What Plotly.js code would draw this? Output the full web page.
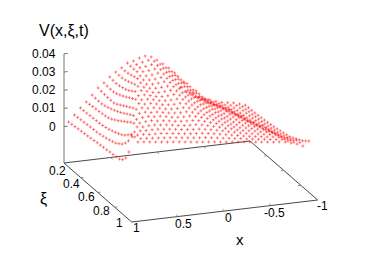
<!DOCTYPE html>
<html><head><meta charset="utf-8">
<script src="https://cdn.plot.ly/plotly-3.0.0.min.js"></script>
<style>html,body{margin:0;padding:0;background:#fff}#c{width:382px;height:267px}</style>
</head><body><div id="c"></div>
<script>
const xValues=[0.95,0.887,0.823,0.76,0.697,0.633,0.57,0.507,0.443,0.38,0.317,0.253,0.19,0.127,0.063,0,-0.063,-0.127,-0.19,-0.253,-0.317,-0.38,-0.443,-0.507,-0.57,-0.633,-0.697,-0.76,-0.823,-0.887,-0.95];
const xiValues=[0.2,0.2375,0.275,0.3125,0.35,0.3875,0.425,0.4625,0.5,0.5375,0.575,0.6125,0.65,0.6875,0.725,0.7625,0.8,0.8375,0.875,0.9125,0.95];
// V in units of 1e-4, one list per x value, ordered by xi
const vByX=[
[22,25,27,30,32,35,37,40,42,45,47,50,52,55,57,60,62,74,98,146,244],
[57,59,61,63,65,67,68,70,73,77,82,87,93,100,112,125,146,173,220,225,212],
[92,93,94,95,96,98,99,102,106,111,118,125,133,142,155,172,190,218,216,212,209],
[121,123,126,128,130,132,135,140,148,159,170,183,196,208,222,232,227,221,216,210,205],
[155,153,152,152,157,163,170,178,187,196,207,218,229,240,234,229,223,218,212,207,201],
[190,187,185,183,183,184,192,203,214,225,236,247,255,248,240,233,226,219,211,204,197],
[214,212,210,210,216,224,233,243,254,265,276,268,259,251,243,235,226,218,210,201,193],
[243,240,238,240,245,251,260,272,285,277,269,261,253,245,237,229,222,214,206,198,190],
[266,264,264,268,274,282,290,294,286,277,269,261,252,244,236,227,219,211,202,194,186],
[285,284,286,291,297,302,294,286,278,270,262,254,246,238,230,222,214,206,198,190,182],
[308,306,305,306,298,291,283,276,268,261,253,246,238,231,223,216,208,201,193,186,178],
[315,311,309,302,294,287,279,272,264,257,249,242,234,227,219,212,204,197,189,182,174],
[328,320,312,304,296,288,281,273,265,257,249,241,233,225,217,210,202,194,186,178,170],
[335,327,318,310,302,293,285,276,268,260,251,243,234,226,218,209,201,192,184,176,167],
[326,318,310,302,293,285,277,269,261,253,245,236,228,220,212,204,196,187,179,171,163],
[305,298,291,283,276,269,261,254,247,239,232,225,217,210,203,196,188,181,174,166,159],
[280,274,268,261,255,249,243,236,230,224,218,211,205,199,193,186,180,174,168,161,155],
[254,249,244,239,233,228,223,218,213,208,203,197,192,187,182,177,172,167,161,156,151],
[223,219,215,212,208,204,200,196,193,189,185,181,177,174,170,166,162,158,155,151,147],
[140,185,192,189,187,184,181,179,176,173,171,168,165,163,160,157,155,152,149,147,144],
[110,122,140,162,161,159,158,157,155,154,153,151,150,149,147,146,145,144,142,141,140],
[90,98,108,118,130,142,142,141,141,141,140,140,140,139,139,138,138,138,137,137,136],
[70,77,84,92,101,110,121,132,133,133,133,133,133,133,133,133,133,132,132,132,132],
[60,65,70,76,83,91,100,111,124,124,125,125,125,126,126,126,127,127,127,128,128],
[50,54,58,62,67,72,78,85,93,103,114,115,116,117,118,119,120,121,122,123,124],
[40,43,46,50,54,58,62,67,72,78,85,95,107,109,111,113,115,116,118,119,121],
[30,32,34,36,39,42,45,49,53,58,64,72,84,100,102,105,107,110,112,115,117],
[25,26,27,28,29,31,33,36,39,42,46,51,57,64,74,85,90,94,98,103,107],
[20,21,22,23,24,25,27,29,31,34,37,41,45,50,56,63,71,81,88,93,98],
[10,11,12,13,14,16,18,20,23,26,29,33,37,42,48,54,61,70,85,88,83],
[0,1,2,3,5,7,9,12,15,18,22,26,30,35,40,48,58,68,78,92,107]
];
const xTicks=[1,0.5,0,-0.5,-1];
const xiTicks=[0.2,0.4,0.6,0.8,1];
const zTicks=[0,0.01,0.02,0.03,0.04];
const zMin=-0.02, zMax=0.04;

// gnuplot-style oblique view of the (x, xi, z) box onto the 2-D Plotly axes
const view={ox:64,oy:163,xx:93,xy:-11,ix:84.6,iy:73.75,zy:-1820};
const projX=(x,xi)=>view.ox+view.xx*(1-x)+view.ix*(xi-0.2);
const projY=(x,xi,z)=>view.oy+view.xy*(1-x)+view.iy*(xi-0.2)+view.zy*(z-zMin);

const px=[],py=[];
xValues.forEach((x,j)=>xiValues.forEach((xi,i)=>{px.push(projX(x,xi));py.push(projY(x,xi,vByX[j][i]/10000));}));

function lineSet(){
  const s={x:[],y:[],add(a,b){s.x.push(projX(a[0],a[1]),projX(b[0],b[1]),null);s.y.push(projY(a[0],a[1],a[2]),projY(b[0],b[1],b[2]),null);}};
  return s;
}
const base=lineSet();
base.add([1,0.2,zMin],[1,1,zMin]);base.add([1,1,zMin],[-1,1,zMin]);base.add([-1,1,zMin],[-1,0.2,zMin]);base.add([-1,0.2,zMin],[1,0.2,zMin]);
const tickMarks=lineSet();
xTicks.slice(1,-1).forEach(t=>{tickMarks.add([t,1,zMin],[t,0.975,zMin]);tickMarks.add([t,0.2,zMin],[t,0.225,zMin]);});
xiTicks.slice(1,-1).forEach(t=>{tickMarks.add([1,t,zMin],[0.97,t,zMin]);tickMarks.add([-1,t,zMin],[-0.97,t,zMin]);});
const zAxis=lineSet();
zAxis.add([1,0.2,zMin],[1,0.2,zMax]);
zTicks.concat([zMax]).slice(0,5).forEach(t=>zAxis.add([1,0.2,t],[0.96,0.2,t]));

const font={family:'"Liberation Sans",Arial,sans-serif',size:12,color:'#000'};
const ann=[];
function label(ax,ay,text,xshift,yshift,xanchor,size){
  ann.push({xref:'x',yref:'y',x:ax,y:ay,text:String(text),showarrow:false,xshift,yshift,xanchor:xanchor||'center',yanchor:'middle',font:size?Object.assign({},font,{size}):font,borderpad:0});
}
zTicks.forEach(t=>label(projX(1,0.2),projY(1,0.2,t),t,-7,0,'right'));
const xiShift=[[-7,-8],[-9,-6],[-11,-4.5],[-13,-4],[-12,-1]];
xiTicks.forEach((t,i)=>label(projX(1,t),projY(1,t,zMin),t,xiShift[i][0],xiShift[i][1]));
const xShift=[[5,-6],[5,-7],[4,-7],[3,-7],[5,-6]];
xTicks.forEach((t,i)=>label(projX(t,1),projY(t,1,zMin),t,xShift[i][0],xShift[i][1]));
label(projX(0,1),projY(0,1,zMin),'x',15,-28,'center',15);
label(projX(1,0.6),projY(1,0.6,zMin),'ξ',-54,-6,'center',16);

const data=[
 {type:'scatter',mode:'lines',x:base.x,y:base.y,line:{color:'#333',width:0.9},hoverinfo:'skip',connectgaps:false},
 {type:'scatter',mode:'lines',x:tickMarks.x,y:tickMarks.y,line:{color:'#888',width:0.9},hoverinfo:'skip',connectgaps:false},
 {type:'scatter',mode:'lines',x:zAxis.x,y:zAxis.y,line:{color:'#777',width:1},hoverinfo:'skip',connectgaps:false},
 {type:'scatter',mode:'markers',x:px,y:py,marker:{symbol:'cross-thin',size:2.2,color:'rgba(255,30,30,0.6)',line:{width:0.9,color:'rgba(255,30,30,0.6)'}},hoverinfo:'skip'}
];
const hidden=r=>({visible:false,range:r,autorange:false,fixedrange:true});
const layout={
 width:382,height:267,showlegend:false,paper_bgcolor:'#fff',plot_bgcolor:'#fff',
 margin:{l:0,r:0,t:0,b:0},
 title:{text:'V(x,ξ,t)',x:39/382,xanchor:'left',y:1-30/267,yanchor:'middle',font:{family:'"Liberation Sans",Arial,sans-serif',size:16,color:'#000'}},
 xaxis:hidden([0,382]),yaxis:hidden([267,0]),
 annotations:ann
};
Plotly.newPlot('c',data,layout,{displayModeBar:false,staticPlot:true});
</script></body></html>
